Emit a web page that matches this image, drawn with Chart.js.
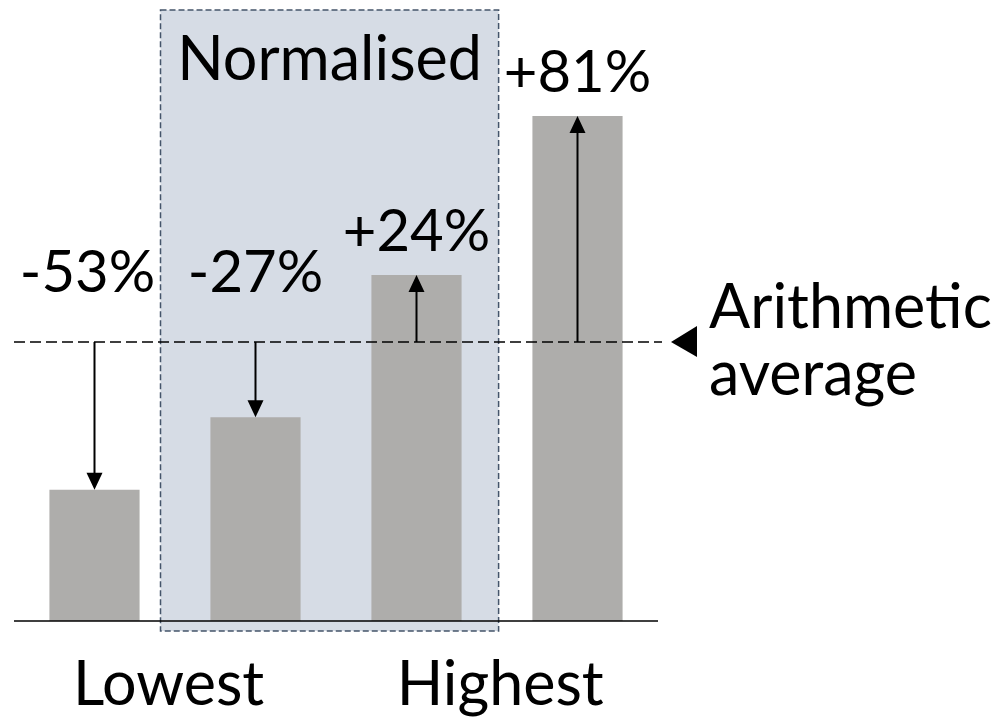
<!DOCTYPE html>
<html lang="en">
<head>
<meta charset="UTF-8">
<title>Normalised bars</title>
<script src="https://cdn.jsdelivr.net/npm/chart.js@4.4.1/dist/chart.umd.min.js"></script>
<style>
  body { margin: 0; background: #fff; }
  #wrap { width: 997px; height: 717px; }
</style>
</head>
<body>
<div id="wrap"><canvas id="chart" width="997" height="717"></canvas></div>
<script>
  // values relative to the arithmetic average (= 100)
  const categories = ['A', 'B', 'C', 'D'];
  const values = [47, 73, 124, 181];
  const average = 100;
  const changeLabels = ['-53%', '-27%', '+24%', '+81%'];
  const groupLabels = ['Lowest', 'Highest'];
  const groupPositions = [0.46, 2.52];   // between bars, in category units
  const boxX = [0.41, 2.51];             // "Normalised" shaded band, category units
  const boxY = [-3.6, 219];              // value units

  const FONT = 'Lato, "Open Sans", sans-serif';

  function arrow(ctx, x, y0, y1) {
    const dir = y1 > y0 ? 1 : -1;
    ctx.beginPath();
    ctx.moveTo(x, y0);
    ctx.lineTo(x, y1 - dir * 16);
    ctx.stroke();
    ctx.beginPath();
    ctx.moveTo(x, y1);
    ctx.lineTo(x - 8, y1 - dir * 17);
    ctx.lineTo(x + 8, y1 - dir * 17);
    ctx.closePath();
    ctx.fill();
  }

  const overlay = {
    id: 'overlay',
    beforeDatasetsDraw(chart) {
      const ctx = chart.ctx, xs = chart.scales.x, ys = chart.scales.y;
      const l = xs.getPixelForValue(boxX[0]), r = xs.getPixelForValue(boxX[1]);
      const t = ys.getPixelForValue(boxY[1]), b = ys.getPixelForValue(boxY[0]);
      ctx.save();
      ctx.fillStyle = '#d6dce5';
      ctx.fillRect(l, t, r - l, b - t);
      ctx.strokeStyle = '#44546a';
      ctx.lineWidth = 1.5;
      ctx.setLineDash([6, 3]);
      ctx.strokeRect(l, t, r - l, b - t);
      ctx.restore();
    },
    afterDatasetsDraw(chart) {
      const ctx = chart.ctx, xs = chart.scales.x, ys = chart.scales.y;
      const area = chart.chartArea;
      const y0 = ys.getPixelForValue(0);
      const yAvg = ys.getPixelForValue(average);
      ctx.save();
      // baseline
      ctx.strokeStyle = '#000';
      ctx.lineWidth = 1.5;
      ctx.beginPath();
      ctx.moveTo(area.left, y0);
      ctx.lineTo(area.right, y0);
      ctx.stroke();
      // average line
      ctx.setLineDash([11, 5]);
      ctx.beginPath();
      ctx.moveTo(area.left, yAvg);
      ctx.lineTo(area.right + 4, yAvg);
      ctx.stroke();
      ctx.setLineDash([]);
      // marker
      ctx.fillStyle = '#000';
      ctx.beginPath();
      ctx.moveTo(area.right + 13, yAvg);
      ctx.lineTo(area.right + 39, yAvg - 16);
      ctx.lineTo(area.right + 39, yAvg + 15);
      ctx.closePath();
      ctx.fill();
      // arrows + labels
      ctx.lineWidth = 2;
      ctx.font = '58px ' + FONT;
      ctx.textAlign = 'center';
      ctx.textBaseline = 'alphabetic';
      values.forEach((v, i) => {
        const x = xs.getPixelForValue(i);
        const yTop = ys.getPixelForValue(v);
        arrow(ctx, x, yAvg, yTop);
        const ty = v < average ? yAvg - 50 : yTop - 24;
        ctx.fillText(changeLabels[i], x - (i === 0 ? 7 : 0), ty);
      });
      // group labels
      ctx.font = '61px ' + FONT;
      groupLabels.forEach((t, i) => {
        ctx.fillText(t, xs.getPixelForValue(groupPositions[i]), y0 + 84);
      });
      ctx.fillText('Normalised', xs.getPixelForValue((boxX[0] + boxX[1]) / 2), area.top + 70);
      ctx.textAlign = 'left';
      ctx.fillText('Arithmetic', area.right + 51, yAvg - 14);
      ctx.fillText('average', area.right + 51, yAvg + 53);
      ctx.restore();
    }
  };

  new Chart(document.getElementById('chart'), {
    type: 'bar',
    data: {
      labels: categories,
      datasets: [{
        data: values,
        backgroundColor: '#aeadab',
        categoryPercentage: 1,
        barPercentage: 0.56
      }]
    },
    options: {
      responsive: false,
      animation: false,
      layout: { padding: { left: 14, right: 339, top: 10, bottom: 96 } },
      plugins: { legend: { display: false }, tooltip: { enabled: false } },
      scales: {
        x: { display: false },
        y: { display: false, min: 0, max: 219 }
      }
    },
    plugins: [overlay]
  });
</script>
</body>
</html>
